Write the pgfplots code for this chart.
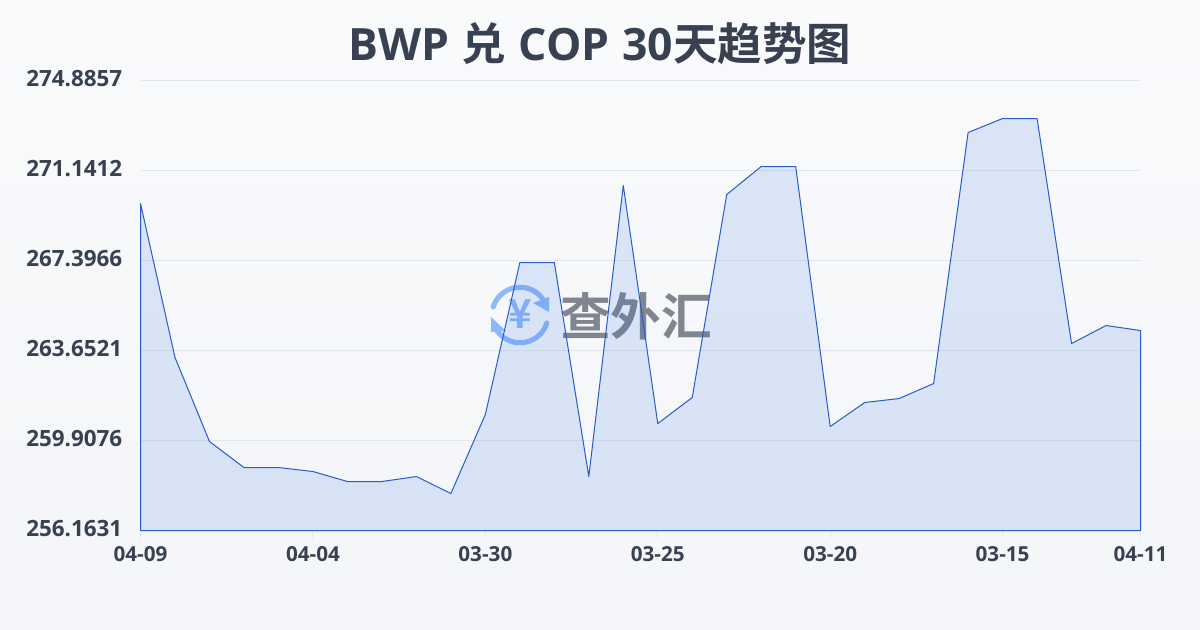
\documentclass[border=0pt]{standalone}
\usepackage{pgfplots}
\pgfplotsset{compat=1.18}
\usepackage{fontspec}
\setmainfont{Open Sans}
\newfontfamily\cjk{Noto Sans CJK SC}[BoldFont={Noto Sans CJK SC Bold}]
\definecolor{ink}{HTML}{374151}
\definecolor{bgtop}{HTML}{F9FAFC}
\definecolor{bgbot}{HTML}{F3F5F8}
\definecolor{gridc}{HTML}{E3E6EB}
\definecolor{linec}{HTML}{2A5BC9}
\definecolor{areac}{HTML}{2C6BE0}
\definecolor{wmblue}{HTML}{8DB8FA}
\definecolor{wmgray}{HTML}{80858F}
\pgfplotstableread{
i v
0 269.768
1 263.361
2 259.866
3 258.784
4 258.784
5 258.618
6 258.202
7 258.202
8 258.410
9 257.702
10 260.989
11 267.313
12 267.313
13 258.410
14 270.517
15 260.615
16 261.697
17 270.143
18 271.308
19 271.308
20 260.490
21 261.489
22 261.655
23 262.279
24 272.722
25 273.305
26 273.305
27 263.943
28 264.692
29 264.484
}\rates
\begin{document}
\begin{tikzpicture}[x=0.75pt,y=0.75pt]
\path[use as bounding box,top color=bgtop,bottom color=bgbot] (0,0) rectangle (1200,630);
% watermark
\begin{scope}[draw=wmblue,line width=3.8pt,line cap=round]
\draw (493.2,323) arc[start angle=163,end angle=35,radius=28];
\draw (546.8,307) arc[start angle=-17,end angle=-145,radius=28];
\end{scope}
\fill[wmblue] (549,333) -- (549,318) -- (533,327) -- cycle;
\fill[wmblue] (491,313) -- (491,298) -- (506,299) -- cycle;
\node[text=wmblue,font=\cjk\bfseries\fontsize{30pt}{30pt}\selectfont] at (520,316) {¥};
\node[text=wmgray,anchor=west,inner sep=0pt,font=\cjk\bfseries\fontsize{38pt}{38pt}\selectfont] at (560,314) {查外汇};
% title
\node[text=ink,font=\bfseries\fontsize{33.4pt}{36pt}\selectfont,inner sep=0pt] at (600,586) {BWP\hspace{0.8pt} {\cjk\bfseries 兑}\hspace{0.8pt} COP\hspace{0.8pt} 30{\cjk\bfseries 天趋势图}};
\begin{axis}[
  at={(105.4pt,74.6pt)},anchor=south west,
  scale only axis,width=750pt,height=337.5pt,
  xmin=0,xmax=29,ymin=256.1631,ymax=274.8857,
  axis line style={draw=none},
  clip=false,
  xtick={0,5,10,15,20,25,29},
  xticklabels={04-09,04-04,03-30,03-25,03-20,03-15,04-11},
  ytick={256.1631,259.9076,263.6521,267.3966,271.1412,274.8857},
  yticklabels={256.1631,259.9076,263.6521,267.3966,271.1412,274.8857},
  xtick pos=lower,
  ytick pos=left,
  ymajorgrids,
  grid style={gridc,line width=0.75pt},
  major tick style={gridc,line width=0.75pt},
  tick align=outside,
  y tick style={draw=none},
  major tick length=5.25pt,
  x tick label style={text=ink,font=\bfseries\fontsize{15.5pt}{16pt}\selectfont,yshift=-3pt},
  y tick label style={text=ink,font=\bfseries\fontsize{16.8pt}{17pt}\selectfont,xshift=-5pt,yshift=1.5pt},
]
\addplot[draw=linec,line width=0.75pt,fill=areac,fill opacity=0.14,line join=round] table[x=i,y=v]{\rates} \closedcycle;
\end{axis}
\end{tikzpicture}
\end{document}
